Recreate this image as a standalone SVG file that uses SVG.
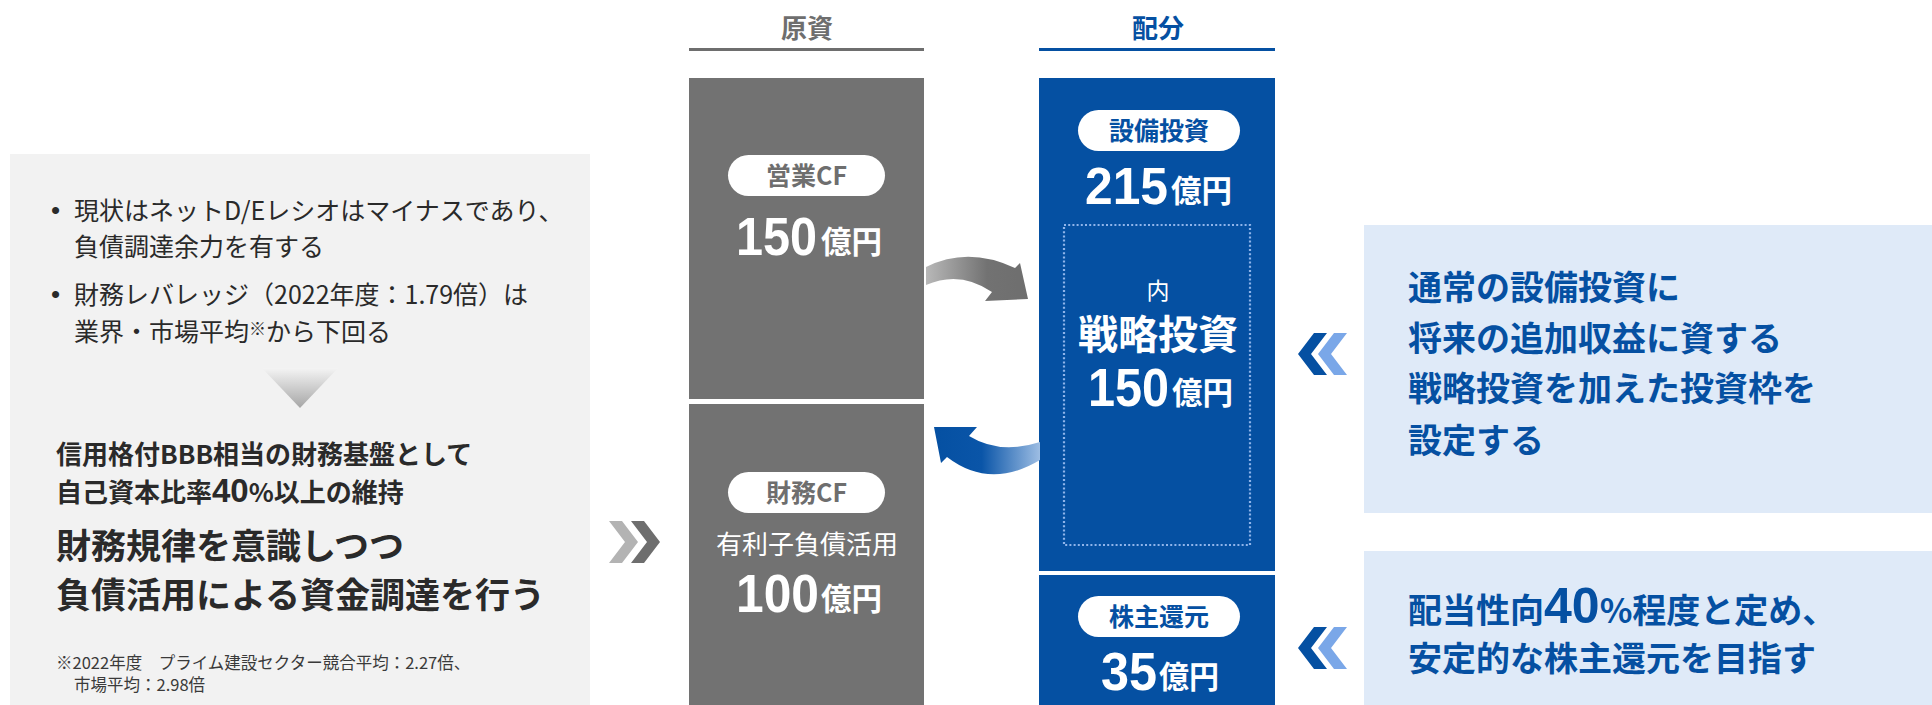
<svg xmlns="http://www.w3.org/2000/svg" width="1932" height="705" viewBox="0 0 1932 705">
<style>
.jp{font-family:'Noto Sans CJK JP','Liberation Sans',sans-serif}
.num{font-family:'Liberation Sans','Noto Sans CJK JP',sans-serif;font-weight:bold}
.dark{fill:#2a2a2a}
.wt{fill:#ffffff}
.gry{fill:#6e6e6e}
.blu{fill:#0550a2}
.pill{fill:#ffffff}
.b{font-weight:bold}
</style>
<defs>
<linearGradient id="triG" x1="0" y1="0" x2="0" y2="1">
<stop offset="0" stop-color="#f4f4f4"/>
<stop offset="1" stop-color="#a6a6a6"/>
</linearGradient>
<linearGradient id="grayArr" x1="926" y1="0" x2="1028" y2="0" gradientUnits="userSpaceOnUse">
<stop offset="0" stop-color="#b8b8b8"/>
<stop offset="0.6" stop-color="#727272"/>
<stop offset="1" stop-color="#6e6e6e"/>
</linearGradient>
<linearGradient id="blueArr" x1="934" y1="0" x2="1040" y2="0" gradientUnits="userSpaceOnUse">
<stop offset="0" stop-color="#0550a2"/>
<stop offset="0.45" stop-color="#0a55a8"/>
<stop offset="1" stop-color="#9dbde3"/>
</linearGradient>
</defs>
<rect width="1932" height="705" fill="#ffffff"/>

<g id="left-panel">
<rect x="10" y="154" width="580" height="551" fill="#f2f2f2"/>
<g class="jp dark" font-size="25">
<text x="51" y="219" font-family="'Liberation Sans',sans-serif" font-size="26">•</text>
<text x="74" y="220">現状はネットD/Eレシオはマイナスであり、</text>
<text x="74" y="256">負債調達余力を有する</text>
<text x="51" y="303" font-family="'Liberation Sans',sans-serif" font-size="26">•</text>
<text x="74" y="304">財務レバレッジ（2022年度：1.79倍）は</text>
<text x="74" y="341">業界・市場平均<tspan font-size="17" dy="-6">※</tspan><tspan dy="6">から下回る</tspan></text>
</g>
<polygon points="262,368 338,368 300,408" fill="url(#triG)"/>
<g class="jp dark b">
<text x="56" y="464" font-size="26">信用格付BBB相当の財務基盤として</text>
<text x="56" y="502" font-size="26">自己資本比率<tspan class="num" font-size="33">40</tspan>%以上の維持</text>
<text x="56" y="559" font-size="35">財務規律を意識しつつ</text>
<text x="56" y="608" font-size="35">負債活用による資金調達を行う</text>
</g>
<g class="jp" fill="#3a3a3a" font-size="16.5">
<text x="56" y="669">※2022年度　プライム建設セクター競合平均：2.27倍、</text>
<text x="74" y="691">市場平均：2.98倍</text>
</g>
</g>

<g id="left-chevrons">
<polygon points="609,521 622,521 638,542 622,563 609,563 625,542" fill="#b3b3b3"/>
<polygon points="631,521 644,521 660,542 644,563 631,563 647,542" fill="#6e6e6e"/>
</g>

<g id="header-genshi">
<text class="jp gry b" x="807" y="38" font-size="26" text-anchor="middle">原資</text>
<line x1="689" y1="49.5" x2="924" y2="49.5" stroke="#6e6e6e" stroke-width="3"/>
</g>
<g id="header-haibun">
<text class="jp blu b" x="1158" y="38" font-size="26" text-anchor="middle">配分</text>
<line x1="1039" y1="49.5" x2="1275" y2="49.5" stroke="#0550a2" stroke-width="3"/>
</g>

<g id="node-eigyo-cf">
<rect x="689" y="78" width="235" height="321" fill="#727272"/>
<rect class="pill" x="728" y="155" width="157" height="41" rx="20.5"/>
<text class="jp gry b" x="806.5" y="184.5" font-size="25" text-anchor="middle">営業CF</text>
<text class="num wt" x="736" y="255" font-size="53" textLength="81" lengthAdjust="spacingAndGlyphs">150</text>
<text class="jp wt b" x="821" y="253" font-size="31" textLength="61" lengthAdjust="spacingAndGlyphs">億円</text>
</g>

<g id="node-zaimu-cf">
<rect x="689" y="404" width="235" height="301" fill="#727272"/>
<rect class="pill" x="728" y="472" width="157" height="41" rx="20.5"/>
<text class="jp gry b" x="806.5" y="501.5" font-size="25" text-anchor="middle">財務CF</text>
<text class="jp wt" x="807" y="554" font-size="26" text-anchor="middle">有利子負債活用</text>
<text class="num wt" x="736" y="612" font-size="53" textLength="83" lengthAdjust="spacingAndGlyphs">100</text>
<text class="jp wt b" x="821" y="610" font-size="31" textLength="61" lengthAdjust="spacingAndGlyphs">億円</text>
</g>

<g id="node-setsubi">
<rect x="1039" y="78" width="236" height="493" fill="#0550a2"/>
<rect class="pill" x="1078" y="110" width="162" height="41" rx="20.5"/>
<text class="jp blu b" x="1159" y="139.5" font-size="25" text-anchor="middle">設備投資</text>
<text class="num wt" x="1085" y="204" font-size="52" textLength="83" lengthAdjust="spacingAndGlyphs">215</text>
<text class="jp wt b" x="1171" y="202" font-size="31" textLength="61" lengthAdjust="spacingAndGlyphs">億円</text>
</g>

<g id="node-senryaku">
<rect x="1064" y="225" width="186" height="320" fill="none" stroke="#8fb4ea" stroke-width="2.2" stroke-dasharray="2 2.2"/>
<text class="jp wt" x="1158" y="299" font-size="23" text-anchor="middle">内</text>
<text class="jp wt b" x="1158" y="349" font-size="40" text-anchor="middle">戦略投資</text>
<text class="num wt" x="1088" y="406" font-size="53" textLength="81" lengthAdjust="spacingAndGlyphs">150</text>
<text class="jp wt b" x="1172" y="404" font-size="31" textLength="61" lengthAdjust="spacingAndGlyphs">億円</text>
</g>

<g id="node-kabunushi">
<rect x="1039" y="575" width="236" height="130" fill="#0550a2"/>
<rect class="pill" x="1078" y="596" width="162" height="41" rx="20.5"/>
<text class="jp blu b" x="1159" y="625.5" font-size="25" text-anchor="middle">株主還元</text>
<text class="num wt" x="1101" y="690" font-size="53" textLength="56" lengthAdjust="spacingAndGlyphs">35</text>
<text class="jp wt b" x="1159" y="688" font-size="31" textLength="60" lengthAdjust="spacingAndGlyphs">億円</text>
</g>

<g id="connectors">
<path d="M926,267 Q968,246 1015,268 L1020,263 L1028,299 L985,301 L992,292 Q960,270 926,285 Z" fill="url(#grayArr)"/>
<path d="M1040,442 Q1000,455 969,436 L977,427 L934,427 L941,463 L947,457 Q990,490 1040,460 Z" fill="url(#blueArr)"/>
</g>

<g id="right-chevrons">
<polygon points="1327,333 1314,333 1298,354 1314,375 1327,375 1311,354" fill="#0550a2"/>
<polygon points="1347,333 1334,333 1318,354 1334,375 1347,375 1331,354" fill="#7aa7e8"/>
<polygon points="1327,627 1314,627 1298,648 1314,669 1327,669 1311,648" fill="#0550a2"/>
<polygon points="1347,627 1334,627 1318,648 1334,669 1347,669 1331,648" fill="#7aa7e8"/>
</g>

<g id="note-investment">
<rect x="1364" y="225" width="568" height="288" fill="#dfeaf8"/>
<g class="jp blu b" font-size="34">
<text x="1408" y="300">通常の設備投資に</text>
<text x="1408" y="351">将来の追加収益に資する</text>
<text x="1408" y="401">戦略投資を加えた投資枠を</text>
<text x="1408" y="453">設定する</text>
</g>
</g>

<g id="note-return">
<rect x="1364" y="551" width="568" height="154" fill="#dfeaf8"/>
<g class="jp blu b" font-size="34">
<text x="1408" y="623">配当性向<tspan class="num" font-size="50">40</tspan>%程度と定め、</text>
<text x="1408" y="671">安定的な株主還元を目指す</text>
</g>
</g>
</svg>
